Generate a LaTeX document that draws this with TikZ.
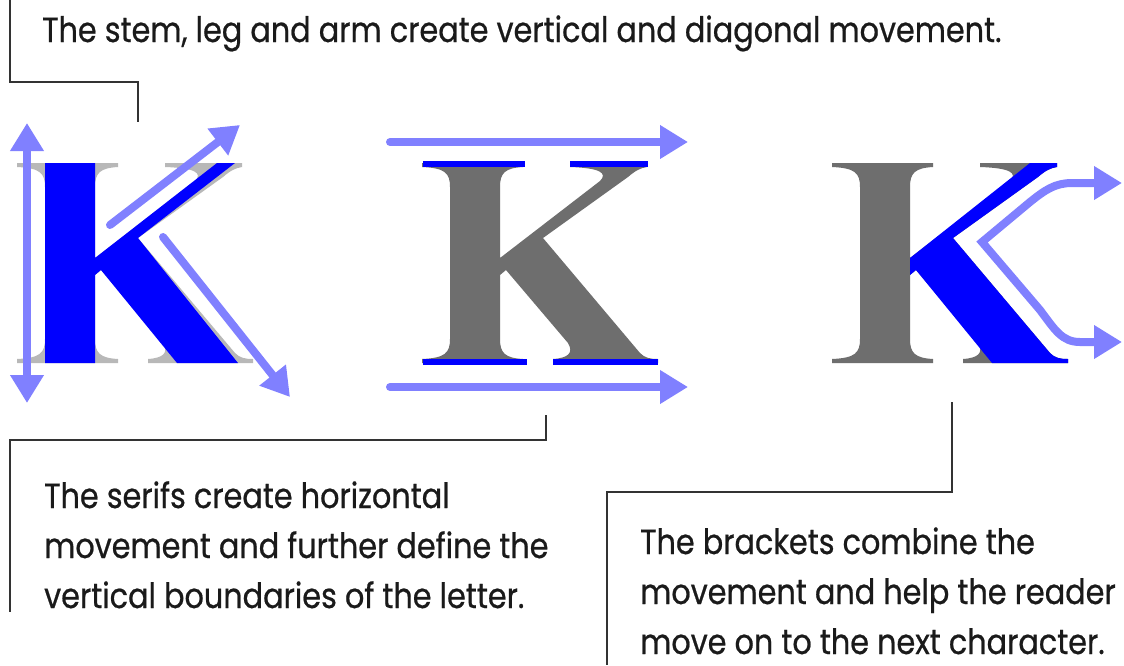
\documentclass[tikz,border=0pt]{standalone}
\usepackage{fontspec}
\setmainfont[FakeStretch=0.865,FakeBold=0.6]{Poppins}
\usetikzlibrary{arrows.meta}
\definecolor{PaleBlue}{HTML}{8080FF}
\definecolor{PureBlue}{HTML}{0000FF}
\definecolor{KGray}{HTML}{6E6E6E}
\definecolor{KLight}{HTML}{B8B8B8}
\definecolor{Ink}{HTML}{1A1A1A}
\definecolor{LineDark}{HTML}{333333}

\begin{document}
\begin{tikzpicture}[x=1pt,y=-1pt,
  every node/.style={font=\fontsize{35}{50}\selectfont,text=Ink,inner sep=0pt},
  note/.style={anchor=base west,align=left},
  callout/.style={LineDark,line width=2.3pt},
  move/.style={PaleBlue,line width=8pt,line cap=round,-{Triangle[length=28pt,width=32pt]}},
  bothways/.style={PaleBlue,line width=8pt,{Triangle[length=28pt,width=32pt]}-{Triangle[length=28pt,width=32pt]}},
  serifline/.style={PureBlue,line width=6pt}]
\fill[white] (0,0) rectangle (1124,665);
\useasboundingbox (0,0) rectangle (1124,665);
% the three serif K outlines
\foreach \kx/\kc in {45/KLight,450/KGray,860/KGray}
  \fill[\kc,shift={(\kx,163)}] (-28,0) -- (73,0) -- (73,4) .. controls (55,5) and (50,10) .. (50,24)
    -- (50,95) -- (150,18) .. controls (158,10) and (150,5) .. (120,4) -- (120,0) -- (197,0) -- (197,4)
    .. controls (190,5) and (185,8) .. (178,14) -- (93,75) -- (190,190) .. controls (195,195) and (200,196) .. (208,196)
    -- (208,200) -- (103,200) -- (103,196) .. controls (118,195) and (124,190) .. (118,180) -- (56,107) -- (50,112)
    -- (50,176) .. controls (50,190) and (55,195) .. (73,196) -- (73,200) -- (-28,200) -- (-28,196)
    .. controls (-5,195) and (0,190) .. (0,176) -- (0,24) .. controls (0,10) and (-5,5) .. (-28,4) -- cycle;
% first K: stem, arm and leg
\fill[PureBlue,shift={(45,163)}] (0,0) -- (50,0) -- (50,95) -- (172,0) -- (190,0) -- (93,75) -- (193,200)
  -- (132,200) -- (56,107) -- (50,112) -- (50,200) -- (0,200) -- cycle;
\draw[bothways] (27,123) -- (27,403);
\draw[move] (110,225) -- (240,125);
\draw[move] (163,237) -- (290,397);
% second K: serifs
\foreach \xa/\xb/\yy in {-27/75/1,120/198/1,-27/77/199,103/208/199}
  \draw[serifline,shift={(450,163)}] (\xa,\yy) -- (\xb,\yy);
\draw[move] (390,142) -- (688,142);
\draw[move] (390,387) -- (688,387);
% third K: brackets
\fill[PureBlue,shift={(860,163)}] (50,95) -- (170,0) -- (197,0) -- (197,4) .. controls (190,5) and (185,8) .. (178,14)
  -- (93,75) -- (190,190) .. controls (195,195) and (200,196) .. (208,196) -- (208,200) -- (132,200) -- (56,107)
  -- (50,112) -- cycle;
\draw[bothways,line join=miter] (1122,183) -- (1072,183) .. controls (1055,183) and (1045,190) .. (1030,202)
  -- (982,242) -- (1040,310) .. controls (1055,330) and (1062,342) .. (1080,342) -- (1122,342);
% labels
\node[note] (stemtext) at (42,42) {The stem, leg and arm create vertical and diagonal movement.};
\node[note] (seriftext) at (44,608) {The serifs create horizontal\\movement and further define the\\vertical boundaries of the letter.};
\node[note] (brackettext) at (640,654) {The brackets combine the\\movement and help the reader\\move on to the next character.};
\coordinate (c1s) at (10,0); \coordinate (c1k) at (138,82); \coordinate (c1e) at (138,122);
\coordinate (c2s) at (546,415); \coordinate (c2k) at (546,440); \coordinate (c2e) at (10,612);
\coordinate (c3s) at (952,402); \coordinate (c3k) at (952,492); \coordinate (c3e) at (607,665);
\draw[callout] (c1s) |- (c1k) -- (c1e);
\draw[callout] (c2s) -- (c2k) -| (c2e);
\draw[callout] (c3s) -- (c3k) -| (c3e);
\end{tikzpicture}
\end{document}
